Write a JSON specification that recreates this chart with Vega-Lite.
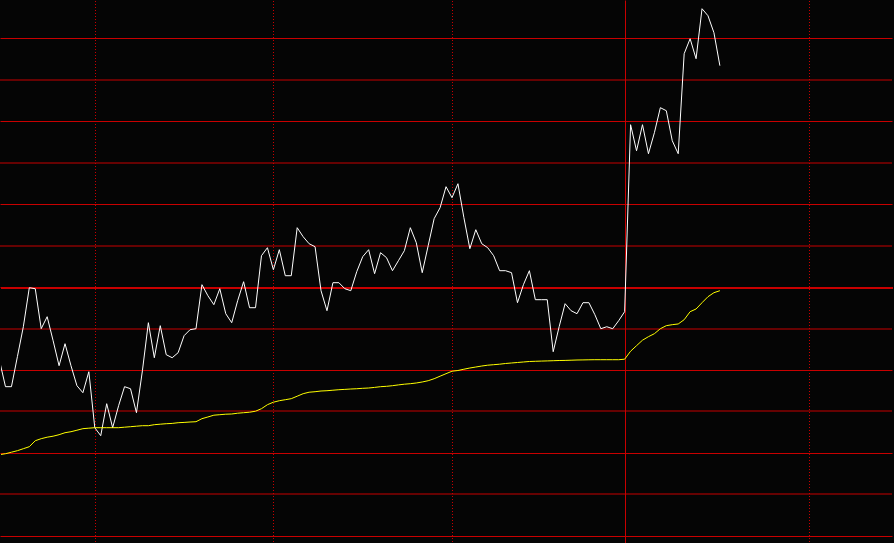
{
  "$schema": "https://vega.github.io/schema/vega-lite/v6.json",
  "width": 894,
  "height": 543,
  "autosize": {"type": "fit", "contains": "padding"},
  "padding": 0,
  "background": "#050505",
  "config": {
    "view": {"stroke": null},
    "axis": {"labels": false, "ticks": false, "domain": false, "title": null, "grid": true, "gridColor": "#c80000", "gridWidth": 1, "gridOpacity": 1}
  },
  "datasets": {
    "series": [
      {"t":0,"price":-1.752,"avg":-4.017},{"t":1,"price":-2.378,"avg":-3.993},{"t":2,"price":-2.378,"avg":-3.957},{"t":3,"price":-1.655,"avg":-3.920},{"t":4,"price":-0.933,"avg":-3.872},{"t":5,"price":0.007,"avg":-3.824},{"t":6,"price":-0.017,"avg":-3.680},{"t":7,"price":-0.980,"avg":-3.631},{"t":8,"price":-0.692,"avg":-3.595},{"t":9,"price":-1.270,"avg":-3.571},
      {"t":10,"price":-1.872,"avg":-3.535},{"t":11,"price":-1.342,"avg":-3.487},{"t":12,"price":-1.872,"avg":-3.463},{"t":13,"price":-2.354,"avg":-3.427},{"t":14,"price":-2.523,"avg":-3.390},{"t":15,"price":-2.017,"avg":-3.378},{"t":16,"price":-3.367,"avg":-3.366},{"t":17,"price":-3.559,"avg":-3.366},{"t":18,"price":-2.788,"avg":-3.366},{"t":19,"price":-3.367,"avg":-3.366},
      {"t":20,"price":-2.836,"avg":-3.366},{"t":21,"price":-2.378,"avg":-3.354},{"t":22,"price":-2.427,"avg":-3.342},{"t":23,"price":-3.005,"avg":-3.330},{"t":24,"price":-1.993,"avg":-3.318},{"t":25,"price":-0.836,"avg":-3.318},{"t":26,"price":-1.680,"avg":-3.294},{"t":27,"price":-0.908,"avg":-3.282},{"t":28,"price":-1.607,"avg":-3.270},{"t":29,"price":-1.680,"avg":-3.263},
      {"t":30,"price":-1.559,"avg":-3.246},{"t":31,"price":-1.149,"avg":-3.239},{"t":32,"price":-1.005,"avg":-3.229},{"t":33,"price":-0.981,"avg":-3.222},{"t":34,"price":0.080,"avg":-3.149},{"t":35,"price":-0.186,"avg":-3.108},{"t":36,"price":-0.402,"avg":-3.065},{"t":37,"price":-0.017,"avg":-3.053},{"t":38,"price":-0.619,"avg":-3.041},{"t":39,"price":-0.836,"avg":-3.036},
      {"t":40,"price":-0.306,"avg":-3.017},{"t":41,"price":0.152,"avg":-3.005},{"t":42,"price":-0.475,"avg":-2.993},{"t":43,"price":-0.475,"avg":-2.969},{"t":44,"price":0.778,"avg":-2.908},{"t":45,"price":0.971,"avg":-2.812},{"t":46,"price":0.441,"avg":-2.752},{"t":47,"price":0.923,"avg":-2.716},{"t":48,"price":0.296,"avg":-2.692},{"t":49,"price":0.296,"avg":-2.667},
      {"t":50,"price":1.453,"avg":-2.607},{"t":51,"price":1.236,"avg":-2.547},{"t":52,"price":1.067,"avg":-2.511},{"t":53,"price":0.995,"avg":-2.499},{"t":54,"price":-0.065,"avg":-2.482},{"t":55,"price":-0.547,"avg":-2.475},{"t":56,"price":0.128,"avg":-2.463},{"t":57,"price":0.128,"avg":-2.451},{"t":58,"price":-0.017,"avg":-2.443},{"t":59,"price":-0.065,"avg":-2.434},
      {"t":60,"price":0.393,"avg":-2.427},{"t":61,"price":0.754,"avg":-2.417},{"t":62,"price":0.923,"avg":-2.410},{"t":63,"price":0.345,"avg":-2.395},{"t":64,"price":0.851,"avg":-2.378},{"t":65,"price":0.731,"avg":-2.369},{"t":66,"price":0.417,"avg":-2.354},{"t":67,"price":0.658,"avg":-2.335},{"t":68,"price":0.899,"avg":-2.318},{"t":69,"price":1.453,"avg":-2.306},
      {"t":70,"price":1.092,"avg":-2.289},{"t":71,"price":0.369,"avg":-2.265},{"t":72,"price":1.019,"avg":-2.234},{"t":73,"price":1.670,"avg":-2.186},{"t":74,"price":1.935,"avg":-2.125},{"t":75,"price":2.441,"avg":-2.065},{"t":76,"price":2.176,"avg":-2.005},{"t":77,"price":2.513,"avg":-1.988},{"t":78,"price":1.694,"avg":-1.957},{"t":79,"price":0.947,"avg":-1.928},
      {"t":80,"price":1.405,"avg":-1.904},{"t":81,"price":1.067,"avg":-1.880},{"t":82,"price":0.971,"avg":-1.860},{"t":83,"price":0.778,"avg":-1.848},{"t":84,"price":0.417,"avg":-1.836},{"t":85,"price":0.417,"avg":-1.819},{"t":86,"price":0.369,"avg":-1.807},{"t":87,"price":-0.354,"avg":-1.795},{"t":88,"price":0.080,"avg":-1.783},{"t":89,"price":0.417,"avg":-1.771},
      {"t":90,"price":-0.282,"avg":-1.766},{"t":91,"price":-0.282,"avg":-1.761},{"t":92,"price":-0.282,"avg":-1.757},{"t":93,"price":-1.535,"avg":-1.752},{"t":94,"price":-0.933,"avg":-1.747},{"t":95,"price":-0.378,"avg":-1.745},{"t":96,"price":-0.547,"avg":-1.740},{"t":97,"price":-0.619,"avg":-1.735},{"t":98,"price":-0.354,"avg":-1.733},{"t":99,"price":-0.354,"avg":-1.730},
      {"t":100,"price":-0.643,"avg":-1.728},{"t":101,"price":-0.981,"avg":-1.728},{"t":102,"price":-0.933,"avg":-1.728},{"t":103,"price":-0.981,"avg":-1.728},{"t":104,"price":-0.788,"avg":-1.728},{"t":105,"price":-0.571,"avg":-1.716},{"t":106,"price":3.935,"avg":-1.523},{"t":107,"price":3.308,"avg":-1.390},{"t":108,"price":3.935,"avg":-1.258},{"t":109,"price":3.236,"avg":-1.173},
      {"t":110,"price":3.742,"avg":-1.101},{"t":111,"price":4.345,"avg":-0.981},{"t":112,"price":4.272,"avg":-0.908},{"t":113,"price":3.549,"avg":-0.884},{"t":114,"price":3.236,"avg":-0.867},{"t":115,"price":5.646,"avg":-0.764},{"t":116,"price":6.007,"avg":-0.571},{"t":117,"price":5.525,"avg":-0.506},{"t":118,"price":6.730,"avg":-0.354},{"t":119,"price":6.561,"avg":-0.210},
      {"t":120,"price":6.152,"avg":-0.113},{"t":121,"price":5.357,"avg":-0.065}
    ]
  },
  "data": {"name": "series"},
  "resolve": {"axis": {"x": "independent", "y": "independent"}},
  "layer": [
    {
      "mark": {"type": "rule", "color": "#c80000", "strokeWidth": 2},
      "encoding": {
        "y": {
          "datum": 0,
          "type": "quantitative",
          "scale": {"domain": [-6.1446, 6.9398], "nice": false, "zero": false},
          "axis": {"orient": "left", "grid": true, "values": [-6, -4, -2, 0, 2, 4, 6], "translate": -0.5}
        }
      }
    },
    {
      "mark": {"type": "line", "color": "#ffffff", "strokeWidth": 1, "clip": true},
      "encoding": {
        "x": {
          "field": "t",
          "type": "quantitative",
          "scale": {"domain": [0.2458, 150.078], "nice": false, "zero": false},
          "axis": {"orient": "bottom", "grid": true, "values": [16, 46, 76, 136], "gridDash": [1, 2], "gridDashOffset": 2.5, "translate": 0.5}
        },
        "y": {
          "field": "price",
          "type": "quantitative",
          "axis": {"orient": "right", "grid": true, "values": [-5, -3, -1, 1, 3, 5], "translate": -1}
        }
      }
    },
    {
      "mark": {"type": "line", "color": "#ffff00", "strokeWidth": 1, "clip": true},
      "encoding": {
        "x": {
          "field": "t",
          "type": "quantitative",
          "axis": {"orient": "top", "grid": true, "values": [105], "translate": 0.5}
        },
        "y": {"field": "avg", "type": "quantitative", "axis": null}
      }
    }
  ]
}
